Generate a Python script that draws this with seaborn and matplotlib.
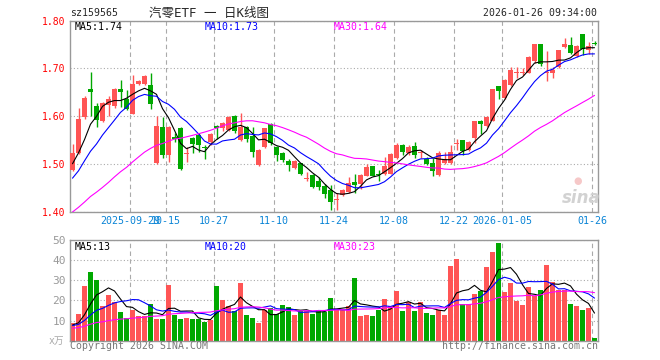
import numpy as np
import pandas as pd
import seaborn as sns
import matplotlib.pyplot as plt

# ---------------------------------------------------------------
# data, 2025-09-15 .. 2026-01-26, 88 sessions
# ---------------------------------------------------------------
opens = [1.488, 1.523, 1.599, 1.656, 1.621, 1.589, 1.623, 1.621, 1.657, 1.635,
         1.605, 1.668, 1.667, 1.665, 1.501, 1.578, 1.518, 1.556, 1.575, 1.521,
         1.555, 1.561, 1.536, 1.545, 1.580, 1.575, 1.572, 1.601, 1.550, 1.578,
         1.558, 1.497, 1.535, 1.584, 1.535, 1.523, 1.507, 1.491, 1.501, 1.469,
         1.477, 1.464, 1.454, 1.445, 1.425, 1.435, 1.442, 1.462, 1.458, 1.475,
         1.495, 1.478, 1.479, 1.480, 1.513, 1.540, 1.522, 1.538, 1.522, 1.510,
         1.501, 1.477, 1.502, 1.501, 1.542, 1.551, 1.529, 1.555, 1.590, 1.580,
         1.589, 1.663, 1.638, 1.665, 1.690, 1.690, 1.691, 1.715, 1.751, 1.690,
         1.690, 1.702, 1.744, 1.750, 1.727, 1.772, 1.738, 1.754]
closes = [1.522, 1.594, 1.639, 1.651, 1.592, 1.627, 1.637, 1.657, 1.651, 1.616,
          1.668, 1.673, 1.684, 1.625, 1.579, 1.518, 1.578, 1.552, 1.489, 1.523,
          1.542, 1.540, 1.534, 1.563, 1.576, 1.585, 1.598, 1.568, 1.577, 1.552,
          1.525, 1.530, 1.575, 1.544, 1.518, 1.508, 1.498, 1.507, 1.479, 1.471,
          1.452, 1.452, 1.438, 1.421, 1.427, 1.445, 1.461, 1.456, 1.477, 1.494,
          1.475, 1.476, 1.496, 1.520, 1.540, 1.524, 1.536, 1.518, 1.526, 1.500,
          1.485, 1.523, 1.511, 1.525, 1.544, 1.528, 1.547, 1.589, 1.584, 1.599,
          1.656, 1.653, 1.676, 1.697, 1.692, 1.692, 1.724, 1.751, 1.710, 1.692,
          1.696, 1.738, 1.752, 1.733, 1.746, 1.740, 1.746, 1.752]
highs = [1.541, 1.618, 1.642, 1.693, 1.627, 1.629, 1.642, 1.659, 1.676, 1.655,
         1.686, 1.676, 1.686, 1.691, 1.600, 1.598, 1.580, 1.565, 1.577, 1.536,
         1.556, 1.564, 1.540, 1.564, 1.582, 1.588, 1.600, 1.602, 1.607, 1.580,
         1.578, 1.531, 1.576, 1.585, 1.537, 1.525, 1.510, 1.509, 1.502, 1.484,
         1.480, 1.472, 1.458, 1.455, 1.439, 1.447, 1.473, 1.478, 1.478, 1.500,
         1.496, 1.487, 1.515, 1.522, 1.543, 1.542, 1.540, 1.545, 1.530, 1.515,
         1.513, 1.527, 1.524, 1.540, 1.553, 1.551, 1.548, 1.590, 1.593, 1.601,
         1.658, 1.663, 1.677, 1.703, 1.704, 1.700, 1.726, 1.752, 1.751, 1.736,
         1.703, 1.738, 1.764, 1.766, 1.750, 1.772, 1.755, 1.757]
lows = [1.485, 1.520, 1.595, 1.600, 1.577, 1.588, 1.600, 1.618, 1.620, 1.614,
        1.605, 1.665, 1.665, 1.615, 1.500, 1.512, 1.505, 1.545, 1.487, 1.504,
        1.522, 1.526, 1.510, 1.540, 1.553, 1.570, 1.570, 1.565, 1.548, 1.545,
        1.514, 1.495, 1.533, 1.540, 1.507, 1.504, 1.485, 1.490, 1.477, 1.465,
        1.450, 1.445, 1.428, 1.404, 1.404, 1.432, 1.439, 1.439, 1.447, 1.474,
        1.474, 1.465, 1.477, 1.479, 1.510, 1.518, 1.518, 1.512, 1.512, 1.498,
        1.475, 1.475, 1.500, 1.500, 1.530, 1.519, 1.527, 1.543, 1.563, 1.578,
        1.589, 1.636, 1.636, 1.664, 1.680, 1.686, 1.690, 1.712, 1.705, 1.673,
        1.680, 1.700, 1.742, 1.730, 1.724, 1.728, 1.730, 1.749]
volumes = [9.0, 13.3, 27.0, 34.3, 30.0, 17.0, 22.8, 19.3, 14.3, 11.3,
           15.0, 12.3, 12.3, 18.3, 10.8, 10.8, 27.8, 13.0, 10.8, 11.3,
           10.8, 10.8, 9.3, 10.3, 27.3, 20.3, 17.3, 14.8, 28.8, 13.0,
           11.3, 9.0, 15.0, 16.3, 13.3, 17.8, 16.8, 13.0, 14.8, 14.5,
           13.3, 15.3, 14.3, 21.0, 15.0, 15.3, 17.3, 31.3, 12.3, 12.8,
           12.3, 15.3, 20.8, 17.3, 24.8, 14.8, 19.3, 14.8, 19.3, 13.8,
           12.8, 15.3, 12.8, 37.0, 40.5, 18.3, 18.3, 23.3, 24.8, 36.5,
           43.8, 48.3, 24.3, 28.8, 19.8, 17.8, 26.5, 22.3, 25.3, 37.8,
           29.3, 25.3, 25.3, 18.3, 17.3, 15.3, 16.3, 1.3]

# sessions before the visible window (only feed the moving averages)
prior_closes = [1.30, 1.31, 1.30, 1.32, 1.33, 1.32, 1.31, 1.33, 1.34, 1.33,
                1.36, 1.38, 1.39, 1.38, 1.41, 1.43, 1.42, 1.44, 1.43, 1.45,
                1.44, 1.43, 1.45, 1.44, 1.44, 1.48, 1.50, 1.49, 1.51]
prior_volumes = [5.0, 5.5, 4.8, 5.2, 6.0, 5.4, 5.0, 5.8, 5.5, 6.2,
                 5.6, 5.0, 5.8, 6.4, 5.5, 6.0, 5.2, 5.9, 6.1, 5.5,
                 7.0, 7.5, 6.8, 7.2, 7.4, 7.8, 7.0, 7.6, 7.5]

tick_idx = [10, 16, 24, 34, 44, 54, 64, 72, 87]
tick_labels = ["2025-09-29", "10-15", "10-27", "11-10", "11-24",
               "12-08", "12-22", "2026-01-05", "01-26"]

# ---------------------------------------------------------------
RED, GREEN = "#ff5555", "#00a800"
GRID = "#aaaaaa"
FRAME = "#999999"
TICKBLUE = "#0a84d6"

sns.set_style("white")
plt.rcParams['font.family'] = ['DejaVu Sans Mono', 'Noto Sans CJK SC']

n = len(closes)
x = np.arange(n)
o, c, h, l = map(np.array, (opens, closes, highs, lows))
up = c >= o
cols = np.where(up, RED, GREEN)

close_all = pd.Series(prior_closes + closes)
vol_all = pd.Series(prior_volumes + volumes)
ma = {k: close_all.rolling(k).mean().to_numpy()[-n:] for k in (5, 10, 30)}
vma = {k: vol_all.rolling(k).mean().to_numpy()[-n:] for k in (5, 10, 30)}
ma_cols = {5: "black", 10: "#0000ff", 30: "#ff00ff"}

W, H = 660, 360
fig = plt.figure(figsize=(6.6, 3.6), dpi=100)
ax = fig.add_axes([70 / W, 1 - 211.7 / H, 528 / W, 191 / H])
axv = fig.add_axes([70 / W, 1 - 340.7 / H, 528 / W, 100.7 / H])

# candles
ax.vlines(x, l, h, colors=cols, linewidth=1, zorder=2)
body = np.maximum(np.abs(c - o), 0.0012)
ax.bar(x, body, bottom=np.minimum(o, c), width=0.8, color=cols,
       linewidth=0, zorder=3)
for k in (5, 10, 30):
    sns.lineplot(x=x, y=ma[k], ax=ax, color=ma_cols[k], linewidth=0.8, zorder=4)

# volume
axv.bar(x, volumes, width=0.8, color=cols, linewidth=0, zorder=2)
for k in (5, 10, 30):
    sns.lineplot(x=x, y=vma[k], ax=axv, color=ma_cols[k], linewidth=0.8, zorder=4)

grid_x = [i - 0.4167 for i in tick_idx]
for a in (ax, axv):
    a.set_xlim(-0.4167, n - 0.4167)
    a.set_xticks(grid_x)
    a.xaxis.grid(True, linestyle=(0, (4, 3)), color=GRID, linewidth=0.8)
    a.yaxis.grid(True, linestyle=(0, (1, 2)), color=GRID, linewidth=0.8)
    a.set_axisbelow(True)
    a.set_xlabel("")
    a.set_ylabel("")
    for s in a.spines.values():
        s.set_color(FRAME)
        s.set_linewidth(1)

ax.set_ylim(1.40, 1.80)
ax.set_yticks([1.40, 1.50, 1.60, 1.70, 1.80])
ax.set_yticklabels(["1.40", "1.50", "1.60", "1.70", "1.80"])
ax.tick_params(axis='y', length=0, labelcolor='red', labelsize=7, pad=3)
ax.set_xticklabels(tick_labels)
ax.tick_params(axis='x', length=0, labelcolor=TICKBLUE, labelsize=7.2, pad=3)

axv.set_ylim(0, 50)
axv.set_yticks([10, 20, 30, 40, 50])
axv.set_yticklabels(["10", "20", "30", "40", "50"])
axv.tick_params(axis='y', length=0, labelcolor='#999999', labelsize=8, pad=3)
axv.tick_params(axis='x', length=0, labelbottom=False)


def put(px, py, s, **kw):
    fig.text(px / W, 1 - py / H, s, va='center', **kw)


put(70, 13, "sz159565", fontsize=7.1)
put(209, 13, "汽零ETF 一 日K线图", fontsize=9, ha='center')
put(597, 13, "2026-01-26 09:34:00", fontsize=7.1, ha='right')

put(75, 26.5, "MA5:1.74", fontsize=7.1, color="black")
put(205, 26.5, "MA10:1.73", fontsize=7.1, color="#0000ff")
put(334, 26.5, "MA30:1.64", fontsize=7.1, color="#ff00ff")

put(75, 246.5, "MA5:13", fontsize=7.1, color="black")
put(205, 246.5, "MA10:20", fontsize=7.1, color="#0000ff")
put(334, 246.5, "MA30:23", fontsize=7.1, color="#ff00ff")

put(49, 341, "x万", fontsize=7, color="#aaaaaa")
put(70, 346, "Copyright 2026 SINA.COM", fontsize=7.1, color="#777777")
put(598, 346, "http://finance.sina.com.cn", fontsize=7.1, color="#777777",
    ha='right')

# sina watermark
put(581, 198, "sina", fontsize=12, color="#d2d2d2", ha='center',
    fontweight='bold', fontstyle='italic', family='DejaVu Sans')
put(578, 181, "●", fontsize=7, color="#f6c8c8", ha='center', family='DejaVu Sans')

fig.savefig("out.png", dpi=100)
